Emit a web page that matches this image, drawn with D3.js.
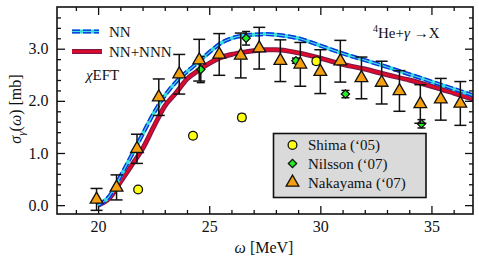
<!DOCTYPE html>
<html>
<head>
<meta charset="utf-8">
<script src="https://cdn.jsdelivr.net/npm/d3@7"></script>
<style>
  body { margin: 0; background: #fff; }
  svg text { font-family: "Liberation Serif", "Times New Roman", Tinos, "Noto Serif", "DejaVu Serif", FreeSerif, serif; fill: #111; }
</style>
</head>
<body>
<div id="chart-area"></div>
<script>

// ---- data ----
var curveOmega = [20.0, 20.5, 21.0, 21.5, 22.0, 22.5, 23.0, 23.5, 24.0, 24.5, 25.0, 25.5, 26.0,
                  26.5, 27.0, 27.5, 28.0, 29.0, 30.0, 31.0, 32.0, 33.0, 34.0, 35.0, 36.0, 36.9];
var nnSigma    = [0.00, 0.17, 0.55, 0.95, 1.36, 1.76, 2.10, 2.36, 2.56, 2.74, 2.93, 3.10, 3.20,
                  3.25, 3.27, 3.28, 3.27, 3.20, 3.06, 2.91, 2.78, 2.65, 2.51, 2.37, 2.23, 2.10];
var nnnSigma   = [0.00, 0.13, 0.44, 0.76, 1.08, 1.50, 1.90, 2.15, 2.42, 2.58, 2.72, 2.83, 2.89,
                  2.93, 2.96, 2.98, 2.98, 2.92, 2.82, 2.70, 2.61, 2.50, 2.40, 2.28, 2.15, 2.03];

var shimaOmega = [21.8, 24.27, 26.47, 29.82];
var shimaSigma = [0.30, 1.33, 1.68, 2.76];
var shimaErr   = [0.04, 0.05, 0.06, 0.06];

var nilssonOmega = [24.62, 26.66, 28.9, 31.13, 34.55];
var nilssonSigma = [2.60, 3.20, 2.77, 2.13, 1.56];
var nilssonErr   = [0.25, 0.13, 0.05, 0.07, 0.08];

var nakaOmega = [19.93, 20.83, 21.75, 22.73, 23.65, 24.55, 25.45, 26.42, 27.25, 28.2,
                 29.1, 30.0, 30.9, 31.85, 32.76, 33.56, 34.5, 35.42, 36.3];
var nakaSigma = [0.11, 0.34, 1.08, 2.07, 2.51, 2.78, 2.89, 2.87, 3.01, 2.77,
                 2.70, 2.56, 2.76, 2.44, 2.35, 2.19, 1.94, 2.03, 1.95];
var nakaErr   = [0.21, 0.24, 0.28, 0.35, 0.38, 0.40, 0.40, 0.43, 0.40, 0.40,
                 0.42, 0.42, 0.40, 0.40, 0.41, 0.39, 0.37, 0.40, 0.42];

var xMajorTicks = [20, 25, 30, 35];
var xMinorTicks = [19, 21, 22, 23, 24, 26, 27, 28, 29, 31, 32, 33, 34, 36];
var yMajorTicks = [0, 1, 2, 3];
var yMinorTicks = [0.2, 0.4, 0.6, 0.8, 1.2, 1.4, 1.6, 1.8, 2.2, 2.4, 2.6, 2.8, 3.2, 3.4, 3.6];

var legendLabels = ["Shima (\u201805)", "Nilsson (\u201807)", "Nakayama (\u201807)"];

// ---- layout ----
var W = 479, H = 259;
var margin = { left: 57, right: 6, top: 7, bottom: 45 };
var width = W - margin.left - margin.right;
var height = H - margin.top - margin.bottom;
var FONT = "Liberation Serif, Times New Roman, Tinos, Noto Serif, DejaVu Serif, FreeSerif, serif";

var svg = d3.select("#chart-area").append("svg")
    .attr("width", W)
    .attr("height", H);

var g = svg.append("g")
    .attr("transform", "translate(" + margin.left + "," + margin.top + ")");

var x = d3.scaleLinear().domain([18.15, 36.87]).range([0, width]);
var y = d3.scaleLinear().domain([-0.17, 3.8]).range([height, 0]);

g.append("clipPath").attr("id", "clip")
  .append("rect").attr("width", width).attr("height", height);

// ---- theory curves ----
var nnData = curveOmega.map(function(w, i) { return { w: w, s: nnSigma[i] }; });
var nnnData = curveOmega.map(function(w, i) { return { w: w, s: nnnSigma[i] }; });

var line = d3.line()
    .x(function(d) { return x(d.w); })
    .y(function(d) { return y(d.s); })
    .curve(d3.curveMonotoneX);

var curves = g.append("g").attr("clip-path", "url(#clip)");

function drawNN(sel, d) {
    sel.append("path").attr("d", d).attr("fill", "none")
        .attr("stroke", "#33dddd").attr("stroke-width", 4);
    sel.append("path").attr("d", d).attr("fill", "none")
        .attr("stroke", "#1030e0").attr("stroke-width", 4)
        .attr("stroke-dasharray", "8,3");
    sel.append("path").attr("d", d).attr("fill", "none")
        .attr("stroke", "#40e0e0").attr("stroke-width", 1.2);
}
function drawNNN(sel, d) {
    sel.append("path").attr("d", d).attr("fill", "none")
        .attr("stroke", "#7a1a4a").attr("stroke-width", 5);
    sel.append("path").attr("d", d).attr("fill", "none")
        .attr("stroke", "#dd0a2a").attr("stroke-width", 2.8);
}

drawNNN(curves, line(nnnData));
drawNN(curves, line(nnData));

// ---- experimental points ----
function makePoints(om, sg, er) {
    return om.map(function(w, i) { return { w: w, s: sg[i], e: er[i] }; });
}

function errorBars(data, cap) {
    var eg = g.append("g").attr("stroke", "#111").attr("stroke-width", 1.5);
    data.forEach(function(d) {
        var cx = x(d.w), y0 = y(d.s - d.e), y1 = y(d.s + d.e);
        eg.append("line").attr("x1", cx).attr("x2", cx).attr("y1", y0).attr("y2", y1);
        eg.append("line").attr("x1", cx - cap).attr("x2", cx + cap).attr("y1", y0).attr("y2", y0);
        eg.append("line").attr("x1", cx - cap).attr("x2", cx + cap).attr("y1", y1).attr("y2", y1);
    });
}

var shima = makePoints(shimaOmega, shimaSigma, shimaErr);
var nilsson = makePoints(nilssonOmega, nilssonSigma, nilssonErr);
var naka = makePoints(nakaOmega, nakaSigma, nakaErr);

var circleSym = d3.symbol().type(d3.symbolCircle).size(60);
var squareSym = d3.symbol().type(d3.symbolSquare).size(34);
var triangleSym = d3.symbol().type(d3.symbolTriangle).size(70);

errorBars(shima, 4);
g.selectAll(".shima").data(shima).enter().append("path")
    .attr("class", "shima")
    .attr("d", circleSym)
    .attr("transform", function(d) { return "translate(" + x(d.w) + "," + y(d.s) + ")"; })
    .attr("fill", "#ffff10").attr("stroke", "#111").attr("stroke-width", 1.3);

errorBars(nilsson, 4);
g.selectAll(".nilsson").data(nilsson).enter().append("path")
    .attr("class", "nilsson")
    .attr("d", squareSym)
    .attr("transform", function(d) { return "translate(" + x(d.w) + "," + y(d.s) + ") rotate(45)"; })
    .attr("fill", "#22ee22").attr("stroke", "#111").attr("stroke-width", 1.3);

errorBars(naka, 6);
g.selectAll(".naka").data(naka).enter().append("path")
    .attr("class", "naka")
    .attr("d", triangleSym)
    .attr("transform", function(d) { return "translate(" + x(d.w) + "," + y(d.s) + ")"; })
    .attr("fill", "#f5a010").attr("stroke", "#111").attr("stroke-width", 1.3);

// ---- axes (ticks inward on all four sides) ----
function addAxis(axisFn, ticks, size, transform, labels, fmt) {
    var a = axisFn.tickValues(ticks).tickSizeInner(-size).tickSizeOuter(0).tickPadding(7);
    if (labels) a.tickFormat(fmt); else a.tickFormat("");
    var ag = g.append("g").attr("transform", transform).call(a);
    ag.attr("font-family", FONT).attr("font-size", 16);
    ag.select(".domain").remove();
    ag.selectAll("line").attr("stroke", "#111").attr("stroke-width", 1.3);
    ag.selectAll("text").attr("fill", "#111");
    return ag;
}

var f1 = d3.format(".1f");
addAxis(d3.axisBottom(x), xMajorTicks, 8, "translate(0," + height + ")", true, d3.format("d"));
addAxis(d3.axisBottom(x), xMinorTicks, 4, "translate(0," + height + ")", false);
addAxis(d3.axisTop(x), xMajorTicks, 8, "translate(0,0)", false);
addAxis(d3.axisTop(x), xMinorTicks, 4, "translate(0,0)", false);
addAxis(d3.axisLeft(y), yMajorTicks, 8, "translate(0,0)", true, f1).selectAll("text").attr("dx", "-0.1em");
addAxis(d3.axisLeft(y), yMinorTicks, 4, "translate(0,0)", false);
addAxis(d3.axisRight(y), yMajorTicks, 8, "translate(" + width + ",0)", false);
addAxis(d3.axisRight(y), yMinorTicks, 4, "translate(" + width + ",0)", false);

g.append("rect")
    .attr("width", width).attr("height", height)
    .attr("fill", "none").attr("stroke", "#111").attr("stroke-width", 1.6);

// axis titles
var xt = svg.append("text")
    .attr("x", 264).attr("y", 253)
    .attr("text-anchor", "middle")
    .attr("font-family", FONT).attr("font-size", 16);
xt.append("tspan").style("font-style", "italic").text("\u03c9");
xt.append("tspan").text(" [MeV]");

var yt = svg.append("text")
    .attr("transform", "translate(21,109) rotate(-90)")
    .attr("text-anchor", "middle")
    .attr("font-family", FONT).attr("font-size", 16);
yt.append("tspan").style("font-style", "italic").text("\u03c3");
yt.append("tspan").style("font-style", "italic").attr("font-size", 11).attr("dy", 4).text("\u03b3");
yt.append("tspan").attr("dy", -4).text("(");
yt.append("tspan").style("font-style", "italic").text("\u03c9");
yt.append("tspan").text(") [mb]");

// ---- legend: theory curves ----
var lg = svg.append("g").attr("font-family", FONT).attr("font-size", 15);
var nnSample = d3.line()([[72, 31.5], [99, 31.5]]);
var nnnSample = d3.line()([[72, 51.5], [102, 51.5]]);
drawNN(lg, nnSample);
drawNNN(lg, nnnSample);
lg.append("text").attr("x", 109).attr("y", 37).text("NN");
lg.append("text").attr("x", 109).attr("y", 57).text("NN+NNN");
var chi = lg.append("text").attr("x", 86).attr("y", 80);
chi.append("tspan").style("font-style", "italic").text("\u03c7");
chi.append("tspan").text("EFT");

// reaction label
var rl = svg.append("text").attr("x", 373).attr("y", 38)
    .attr("font-family", FONT).attr("font-size", 15);
rl.append("tspan").attr("font-size", 10).attr("dy", -6).text("4");
rl.append("tspan").attr("dy", 6).text("He+");
rl.append("tspan").style("font-style", "italic").text("\u03b3");
rl.append("tspan").text(" \u2192X");

// ---- legend: data ----
var box = svg.append("g").attr("font-family", FONT).attr("font-size", 15);
box.append("rect")
    .attr("x", 273.5).attr("y", 133.5).attr("width", 152.5).attr("height", 64)
    .attr("fill", "#dadada").attr("stroke", "#111").attr("stroke-width", 1.6);

var legendSyms = [
    { sym: circleSym, fill: "#ffff10", rot: "" },
    { sym: squareSym, fill: "#22ee22", rot: " rotate(45)" },
    { sym: triangleSym, fill: "#f5a010", rot: "" }
];
var rowY = [145, 163.5, 182.5];
legendLabels.forEach(function(lab, i) {
    box.append("path")
        .attr("d", legendSyms[i].sym)
        .attr("transform", "translate(292.5," + rowY[i] + ")" + legendSyms[i].rot)
        .attr("fill", legendSyms[i].fill).attr("stroke", "#111").attr("stroke-width", 1.3);
    box.append("text")
        .attr("x", 308).attr("y", rowY[i] + 5)
        .text(lab);
});

</script>
</body>
</html>
